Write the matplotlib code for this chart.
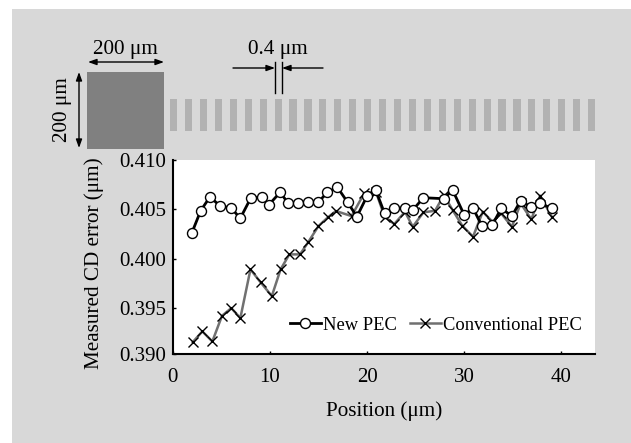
import matplotlib
matplotlib.use("Agg")
import matplotlib.pyplot as plt
from matplotlib.patches import Rectangle
import numpy as np

plt.rcParams['font.family'] = ['Liberation Serif', 'DejaVu Sans']

# values
new_x = [1.95, 2.88, 3.84, 4.9, 6.0, 6.95, 8.05, 9.15, 9.9, 11.05, 11.9, 12.85, 13.95, 15.0,
         15.9, 16.95, 18.0, 18.95, 20.0, 20.9, 21.8, 22.8, 23.9, 24.7, 25.8, 27.9, 28.8,
         30.0, 30.9, 31.8, 32.9, 33.8, 34.9, 35.8, 36.9, 37.8, 39.0]
new_y = [.40257, .40486, .40628, .4053, .40517, .40409, .40618, .40622, .40547, .40672, .40561,
         .40564, .40571, .40574, .40672, .40723, .40571, .40426, .40635, .40693, .40459, .4051,
         .40517, .40493, .40618, .40608, .40696, .40442, .40513, .40334, .40345, .40510, .40432,
         .40588, .40520, .40561, .40510]

conv_x = [2.06, 3.05, 4.08, 5.07, 6.03, 6.96, 8.0, 9.05, 10.2, 11.1, 12.0, 13.1, 13.95, 15.0,
          16.0, 16.8, 18.4, 19.7, 20.9, 21.8, 22.8, 23.9, 24.7, 25.8, 27.0, 27.9, 28.8,
          29.8, 30.9, 31.9, 32.9, 33.8, 34.9, 35.8, 36.9, 37.8, 39.0]
conv_y = [.39155, .39264, .39162, .39422, .395, .39399, .39892, .3976, .39622, .39892, .40044,
          .40044, .40169, .40331, .40422, .40483, .40432, .40662, .4068, .40426, .40351, .40476,
          .40324, .4047, .40486, .40645, .40493, .40334, .40223, .40476, .40375, .40459, .40324,
          .40561, .40399, .40639, .40426]

x_ticks = [0, 10, 20, 30, 40]
y_labels = ['0.390', '0.395', '0.400', '0.405', '0.410']
# the axis line in the picture sits a little above where 0.390 would fall
y_bottom = 0.39035
y_ticks = [y_bottom, 0.395, 0.400, 0.405, 0.410]
n_lines = 29

W, H = 631, 443
fig = plt.figure(figsize=(W / 100, H / 100), dpi=100, facecolor='white')

# grey panel and the layout sketch, in pixel coordinates
bg = fig.add_axes([0, 0, 1, 1])
bg.set_xlim(0, W)
bg.set_ylim(H, 0)
bg.axis('off')
bg.add_patch(Rectangle((12, 9), W - 12, H - 9, color='#d8d8d8', lw=0))
bg.add_patch(Rectangle((87, 72), 77, 77, color='#808080', lw=0))
for left in np.linspace(170, 588, n_lines):
    bg.add_patch(Rectangle((left, 99), 7.2, 32, color='#b2b2b2', lw=0))

arrow = dict(arrowstyle='<|-|>,head_length=0.5,head_width=0.18', color='black', lw=1,
             shrinkA=0, shrinkB=0)
one_way = dict(arrowstyle='-|>,head_length=0.5,head_width=0.18', color='black', lw=1,
               shrinkA=0, shrinkB=0)
bg.annotate('', xy=(164, 62), xytext=(88, 62), arrowprops=arrow)
bg.annotate('', xy=(79, 148), xytext=(79, 72), arrowprops=arrow)
bg.annotate('', xy=(275, 68), xytext=(233, 68), arrowprops=one_way)
bg.annotate('', xy=(282, 68), xytext=(323, 68), arrowprops=one_way)
bg.plot([275, 275], [62, 93], color='black', lw=1)
bg.plot([282, 282], [62, 93], color='black', lw=1)
bg.text(125, 49, '200 \u03bcm', fontsize=15.3, ha='center', va='center')
bg.text(278, 49, '0.4 \u03bcm', fontsize=15.3, ha='center', va='center')
bg.text(62, 110, '200 \u03bcm', fontsize=15.3, ha='center', va='center', rotation=90)

# main plot
ax = fig.add_axes([172.7 / W, 1 - 354 / H, (595 - 172.7) / W, (354 - 160) / H])
ax.set_facecolor('white')
ax.plot(conv_x, conv_y, color='#707070', lw=1.8, marker='x', ms=7, mew=1, mec='black',
        label='Conventional PEC')
ax.plot(new_x, new_y, color='black', lw=2, marker='o', ms=7.2, mew=1, mec='black', mfc='white',
        label='New PEC')
ax.set_xlim(0, 43.45)
ax.set_ylim(y_bottom, 0.410)
ax.set_xticks(x_ticks)
ax.set_yticks(y_ticks)
ax.set_yticklabels(y_labels)
ax.tick_params(direction='in', length=2.5, width=1, labelsize=15)
ax.tick_params(axis='x', pad=10)
ax.tick_params(axis='y', pad=5)
ax.spines['top'].set_visible(False)
ax.spines['right'].set_visible(False)
ax.spines['left'].set_linewidth(1.5)
ax.spines['bottom'].set_linewidth(1.5)
ax.set_xlabel('Position (\u03bcm)', fontsize=15.2, labelpad=10)
ax.set_ylabel('Measured CD error (\u03bcm)', fontsize=15.2, labelpad=10)
ax.yaxis.set_label_coords(-0.163, 0.47)

handles, labels = ax.get_legend_handles_labels()
ax.legend(handles[::-1], labels[::-1], loc='lower left', bbox_to_anchor=(0.278, 0.105), ncol=2,
          frameon=False, fontsize=13.3, handlelength=1.65, handletextpad=0.15, columnspacing=0.7,
          borderpad=0, borderaxespad=0, facecolor='none')

fig.savefig('out.png', dpi=100)
